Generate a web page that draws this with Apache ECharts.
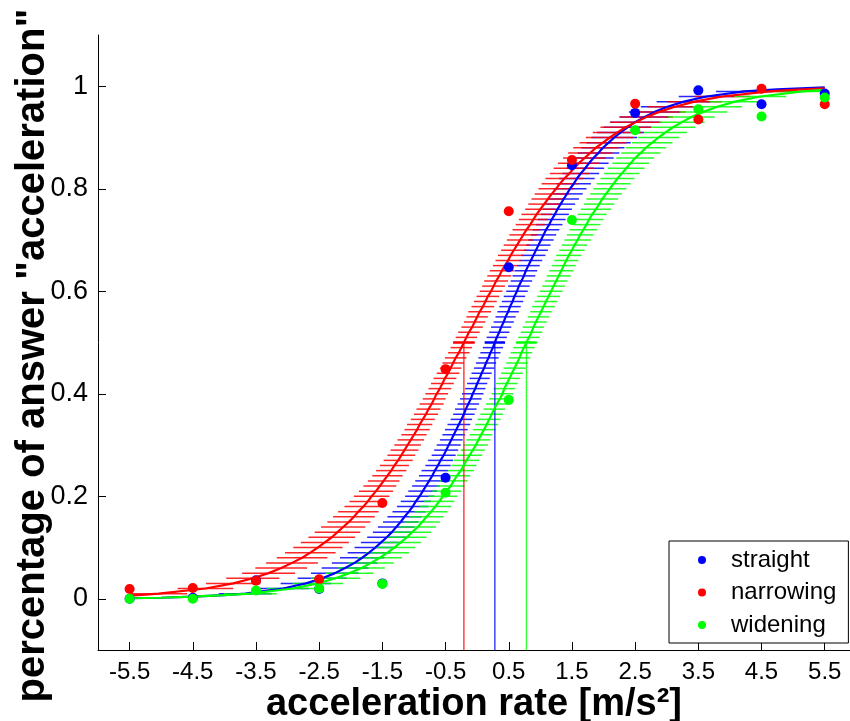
<!DOCTYPE html>
<html><head><meta charset="utf-8">
<script src="https://cdn.jsdelivr.net/npm/echarts@6/dist/echarts.min.js"></script>
<style>html,body{margin:0;padding:0;background:#fff}#c{width:850px;height:721px}</style>
</head><body><div id="c"></div>
<script>
// ---- tick labels ----
const xTicks = [-5.5,-4.5,-3.5,-2.5,-1.5,-0.5,0.5,1.5,2.5,3.5,4.5,5.5];
const yTicks = [0,0.2,0.4,0.6,0.8,1];

// ---- measured data points ----
const dotX = [-5.5,-4.5,-3.5,-2.5,-1.5,-0.5,0.5,1.5,2.5,3.5,4.5,5.5];
const straightDots  = [0.000,0.002,0.036,0.019,0.030,0.236,0.647,0.846,0.948,0.992,0.965,0.986];
const narrowingDots = [0.019,0.021,0.035,0.038,0.187,0.448,0.756,0.856,0.966,0.935,0.995,0.965];
const wideningDots  = [0.000,0.000,0.016,0.020,0.029,0.207,0.388,0.739,0.914,0.955,0.941,0.978];

// ---- thresholds (50% point) and their interval half-widths ----
const thresholds    = [0.28,-0.21,0.78];   // straight, narrowing, widening
const thresholdHalf = [0.16,0.17,0.16];

// ---- response levels at which horizontal interval bars are drawn ----
const barLevels = [0.01,0.02,0.03,0.04,0.05,0.06,0.07,0.08,0.09,0.10,
0.11,0.12,0.13,0.14,0.15,0.16,0.17,0.18,0.19,0.20,
0.21,0.22,0.23,0.24,0.25,0.26,0.27,0.28,0.29,0.30,
0.31,0.32,0.33,0.34,0.35,0.36,0.37,0.38,0.39,0.40,
0.41,0.42,0.43,0.44,0.45,0.46,0.47,0.48,0.49,0.50,
0.51,0.52,0.53,0.54,0.55,0.56,0.57,0.58,0.59,0.60,
0.61,0.62,0.63,0.64,0.65,0.66,0.67,0.68,0.69,0.70,
0.71,0.72,0.73,0.74,0.75,0.76,0.77,0.78,0.79,0.80,
0.81,0.82,0.83,0.84,0.85,0.86,0.87,0.88,0.89,0.90,
0.91,0.92,0.93,0.94,0.95,0.96,0.97,0.98,0.99];

// curve x position at each level
const straightCurveX = [-3.67,-3.07,-2.71,-2.45,-2.25,-2.09,-1.94,-1.82,-1.71,-1.61,
-1.52,-1.43,-1.35,-1.28,-1.21,-1.15,-1.08,-1.02,-0.97,-0.91,
-0.86,-0.81,-0.76,-0.71,-0.67,-0.62,-0.58,-0.53,-0.49,-0.45,
-0.41,-0.37,-0.33,-0.29,-0.25,-0.21,-0.18,-0.14,-0.10,-0.07,
-0.03,0.00,0.04,0.07,0.11,0.14,0.18,0.21,0.25,0.28,
0.31,0.35,0.38,0.42,0.45,0.49,0.52,0.56,0.59,0.63,
0.66,0.70,0.74,0.77,0.81,0.85,0.89,0.93,0.97,1.01,
1.05,1.09,1.14,1.18,1.23,1.27,1.32,1.37,1.42,1.47,
1.53,1.58,1.64,1.71,1.77,1.84,1.92,1.99,2.08,2.17,
2.27,2.38,2.50,2.65,2.81,3.01,3.27,3.63,4.23];
const narrowingCurveX = [-5.04,-4.30,-3.86,-3.55,-3.30,-3.10,-2.93,-2.77,-2.64,-2.52,
-2.41,-2.30,-2.21,-2.12,-2.03,-1.95,-1.88,-1.80,-1.73,-1.67,
-1.60,-1.54,-1.48,-1.42,-1.36,-1.31,-1.25,-1.20,-1.15,-1.10,
-1.05,-1.00,-0.95,-0.91,-0.86,-0.81,-0.77,-0.72,-0.68,-0.64,
-0.59,-0.55,-0.51,-0.46,-0.42,-0.38,-0.34,-0.29,-0.25,-0.21,
-0.17,-0.13,-0.08,-0.04,0.00,0.04,0.09,0.13,0.17,0.22,
0.26,0.30,0.35,0.39,0.44,0.49,0.53,0.58,0.63,0.68,
0.73,0.78,0.84,0.89,0.94,1.00,1.06,1.12,1.18,1.25,
1.31,1.38,1.46,1.53,1.61,1.70,1.79,1.88,1.99,2.10,
2.22,2.35,2.51,2.68,2.88,3.13,3.44,3.88,4.62];
const wideningCurveX = [-3.59,-2.92,-2.52,-2.24,-2.02,-1.83,-1.68,-1.54,-1.42,-1.31,
-1.21,-1.11,-1.03,-0.94,-0.87,-0.80,-0.73,-0.66,-0.60,-0.54,
-0.48,-0.42,-0.37,-0.32,-0.26,-0.21,-0.17,-0.12,-0.07,-0.02,
0.02,0.06,0.11,0.15,0.19,0.23,0.27,0.31,0.36,0.40,
0.43,0.47,0.51,0.55,0.59,0.63,0.67,0.70,0.74,0.78,
0.82,0.86,0.89,0.93,0.97,1.01,1.05,1.09,1.13,1.17,
1.21,1.25,1.29,1.33,1.37,1.41,1.45,1.50,1.54,1.59,
1.63,1.68,1.73,1.77,1.82,1.88,1.93,1.98,2.04,2.10,
2.16,2.22,2.29,2.36,2.43,2.50,2.59,2.67,2.77,2.87,
2.98,3.10,3.24,3.39,3.58,3.80,4.08,4.48,5.15];

// half-width of the horizontal interval bar at each level
const straightHalf = [0.42,0.41,0.40,0.39,0.38,0.37,0.36,0.35,0.34,0.33,
0.32,0.31,0.30,0.29,0.28,0.27,0.26,0.25,0.24,0.23,
0.23,0.22,0.22,0.21,0.21,0.20,0.20,0.19,0.19,0.19,
0.18,0.18,0.18,0.18,0.17,0.17,0.17,0.17,0.17,0.17,
0.16,0.16,0.16,0.16,0.16,0.16,0.16,0.16,0.16,0.16,
0.16,0.16,0.16,0.16,0.16,0.17,0.17,0.17,0.17,0.17,
0.17,0.17,0.18,0.18,0.18,0.18,0.19,0.19,0.19,0.20,
0.20,0.21,0.21,0.22,0.22,0.23,0.23,0.24,0.25,0.26,
0.27,0.28,0.29,0.30,0.31,0.32,0.33,0.34,0.35,0.36,
0.37,0.38,0.39,0.40,0.41,0.42,0.43,0.44,0.45];
const narrowingHalf = [0.45,0.44,0.43,0.42,0.42,0.41,0.41,0.40,0.40,0.39,
0.38,0.37,0.36,0.35,0.34,0.33,0.32,0.30,0.29,0.28,
0.27,0.26,0.25,0.24,0.24,0.23,0.23,0.22,0.22,0.21,
0.21,0.20,0.20,0.20,0.19,0.19,0.19,0.19,0.18,0.18,
0.18,0.18,0.18,0.18,0.17,0.17,0.17,0.17,0.17,0.17,
0.17,0.17,0.17,0.17,0.17,0.18,0.18,0.18,0.18,0.18,
0.18,0.19,0.19,0.19,0.19,0.20,0.20,0.20,0.21,0.21,
0.22,0.22,0.23,0.23,0.24,0.24,0.25,0.26,0.27,0.28,
0.29,0.30,0.31,0.32,0.33,0.34,0.35,0.36,0.37,0.38,
0.39,0.40,0.41,0.42,0.42,0.43,0.43,0.44,0.45];
const wideningHalf = [0.42,0.41,0.40,0.39,0.38,0.37,0.36,0.35,0.34,0.33,
0.32,0.31,0.30,0.29,0.28,0.27,0.26,0.25,0.24,0.23,
0.23,0.22,0.22,0.21,0.21,0.20,0.20,0.20,0.19,0.19,
0.19,0.18,0.18,0.18,0.18,0.18,0.17,0.17,0.17,0.17,
0.17,0.17,0.17,0.17,0.17,0.17,0.17,0.17,0.17,0.17,
0.17,0.17,0.17,0.17,0.17,0.17,0.18,0.18,0.18,0.18,
0.18,0.18,0.19,0.19,0.19,0.19,0.20,0.20,0.20,0.21,
0.21,0.22,0.22,0.23,0.23,0.24,0.24,0.25,0.25,0.26,
0.27,0.27,0.28,0.29,0.29,0.30,0.31,0.32,0.32,0.33,
0.34,0.35,0.36,0.37,0.38,0.39,0.40,0.41,0.42];

// curve tails outside the bar levels
const straightLowTail  = [[-5.5,0.001],[-5.0,0.002],[-4.5,0.004],[-4.0,0.007]];
const straightHighTail = [[4.75,0.994],[5.5,0.998]];
const narrowingLowTail  = [[-5.5,0.006],[-5.25,0.008]];
const narrowingHighTail = [[5.0,0.993],[5.5,0.996]];
const wideningLowTail  = [[-5.5,0.001],[-5.0,0.002],[-4.5,0.004],[-4.0,0.007]];
const wideningHighTail = [[5.5,0.993]];

const names  = ['straight','narrowing','widening'];
const colors = ['#0000ff','#ff0000','#00ff00'];
const FONT = 'Liberation Sans, Arial, sans-serif';

function barData(cx, half){ return barLevels.map((l,i)=>[cx[i], l, half[i]]); }
function curveData(low, cx, high){ return low.concat(barLevels.map((l,i)=>[cx[i], l]), high); }

const groups = [
  {curveX: straightCurveX, half: straightHalf, low: straightLowTail, high: straightHighTail, dots: straightDots},
  {curveX: narrowingCurveX, half: narrowingHalf, low: narrowingLowTail, high: narrowingHighTail, dots: narrowingDots},
  {curveX: wideningCurveX, half: wideningHalf, low: wideningLowTail, high: wideningHighTail, dots: wideningDots}
];

const series = [];
groups.forEach((g, k) => {
  const col = colors[k];
  series.push({
    type: 'custom', silent: true, z: 2,
    data: barData(g.curveX, g.half),
    encode: {x: 0, y: 1},
    renderItem: (params, api) => {
      const c = api.value(0), y = api.value(1), h = api.value(2);
      const p1 = api.coord([c - h, y]), p2 = api.coord([c + h, y]);
      return {type: 'line', shape: {x1: p1[0], y1: p1[1], x2: p2[0], y2: p2[1]},
              style: {stroke: col, lineWidth: 1.5, opacity: 0.85}};
    }
  });
  series.push({
    type: 'line', silent: true, z: 3, showSymbol: false, symbol: 'none',
    data: curveData(g.low, g.curveX, g.high),
    lineStyle: {color: col, width: 2.2}
  });
  series.push({
    type: 'custom', silent: true, z: 3,
    data: [[thresholds[k], thresholdHalf[k]]],
    encode: {x: 0},
    renderItem: (params, api) => {
      const t = api.value(0), h = api.value(1);
      const top = api.coord([t, 0.5]), bot = api.coord([t, -0.1]);
      const l = api.coord([t - h, 0.5]), r = api.coord([t + h, 0.5]);
      return {type: 'group', children: [
        {type: 'line', shape: {x1: top[0], y1: top[1], x2: bot[0], y2: bot[1]}, style: {stroke: col, lineWidth: 1.4, opacity: 0.8}},
        {type: 'line', shape: {x1: l[0], y1: l[1], x2: r[0], y2: r[1]}, style: {stroke: col, lineWidth: 2.4}}
      ]};
    }
  });
});
groups.forEach((g, k) => {
  series.push({
    name: names[k], type: 'scatter', z: 5, symbol: 'circle', symbolSize: 10,
    itemStyle: {color: colors[k], opacity: 1},
    data: dotX.map((x, i) => [x, g.dots[i]])
  });
});

const chart = echarts.init(document.getElementById('c'), null, {renderer: 'canvas'});
chart.setOption({
  animation: false,
  backgroundColor: '#fff',
  grid: {left: 98, right: 0, top: 35, bottom: 71, containLabel: false, outerBoundsMode: 'none'},
  xAxis: {
    type: 'value', min: -6, max: 5.9,
    axisLine: {show: true, onZero: false, lineStyle: {color: '#000', width: 1}},
    axisTick: {show: true, inside: true, length: 8, customValues: xTicks, lineStyle: {color: '#000'}},
    axisLabel: {customValues: xTicks, formatter: v => String(v), fontSize: 24, color: '#000', fontFamily: FONT, margin: 10},
    splitLine: {show: false},
    name: 'acceleration rate [m/s²]', nameLocation: 'middle', nameGap: 36, nameMoveOverlap: false,
    nameTextStyle: {fontSize: 38, fontWeight: 'bold', color: '#000', fontFamily: FONT}
  },
  yAxis: {
    type: 'value', min: -0.1, max: 1.1,
    axisLine: {show: true, onZero: false, lineStyle: {color: '#000', width: 1}},
    axisTick: {show: true, inside: true, length: 8, customValues: yTicks, lineStyle: {color: '#000'}},
    axisLabel: {customValues: yTicks, formatter: v => String(v), fontSize: 27, color: '#000', fontFamily: FONT, margin: 10},
    splitLine: {show: false},
    name: 'percentage of answer "acceleration"', nameLocation: 'middle', nameGap: 45, nameMoveOverlap: false,
    nameTextStyle: {fontSize: 40, fontWeight: 'bold', color: '#000', fontFamily: FONT, padding: [0, 26, 0, 0]}
  },
  legend: {
    data: names, orient: 'vertical', left: 669, top: 541,
    padding: [7, 12, 6, 29], itemGap: 8.5, itemWidth: 8, itemHeight: 8,
    icon: 'circle', selectedMode: false,
    borderColor: '#000', borderWidth: 1, backgroundColor: '#fff',
    textStyle: {fontSize: 24, color: '#000', fontFamily: FONT, padding: [0, 0, 0, 20]}
  },
  series: series
});
</script>
</body></html>
